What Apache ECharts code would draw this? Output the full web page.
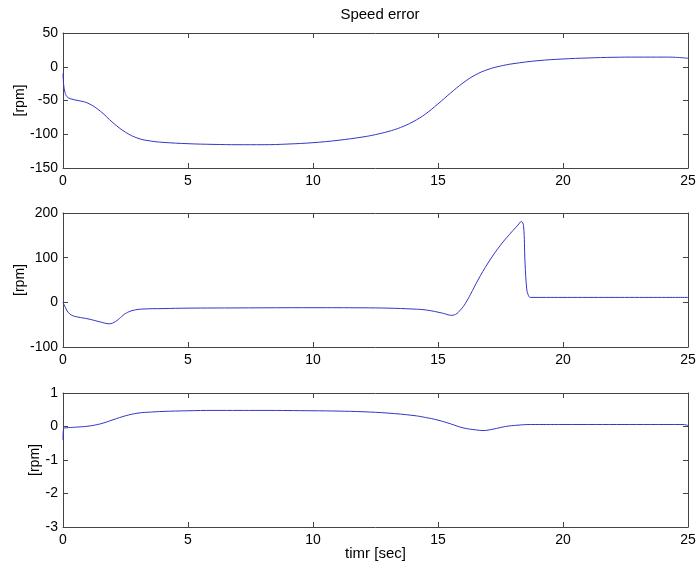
<!DOCTYPE html>
<html>
<head>
<meta charset="utf-8">
<script src="https://cdn.jsdelivr.net/npm/echarts@6/dist/echarts.min.js"></script>
<style>html,body{margin:0;padding:0;background:#fff;}#c{width:698px;height:569px;}</style>
</head>
<body>
<div id="c"></div>
<script>
var titleText = 'Speed error';
var xName = 'timr [sec]';
var yName = '[rpm]';

var xTicks = [0, 5, 10, 15, 20, 25];
var yRange1 = [-150, 50, 50];
var yRange2 = [-100, 200, 100];
var yRange3 = [-3, 1, 1];

var t1 = [0, 0.03, 0.08, 0.15, 0.3, 0.6, 1.0, 1.5, 2.0, 2.5, 3.0, 3.5, 4.0, 5.0, 6.0, 7.0, 8.0, 9.0, 10, 11, 12, 12.5, 13, 13.5, 14, 14.5, 15, 15.5, 16, 16.5, 17, 17.5, 18, 19, 20, 21, 22, 23, 24, 24.5, 25];
var v1 = [-10, -28, -38, -44, -47.5, -50, -54, -66, -83, -97, -106, -110, -112, -114, -115, -115.5, -115.5, -114.5, -112.5, -109, -104, -100.5, -96, -90, -81.5, -70, -55, -39, -24, -12, -4, 1, 4.5, 9, 11.5, 13, 14, 14.3, 14.3, 14, 12.5];

var t2 = [0, 0.1, 0.2, 0.35, 0.6, 1.0, 1.5, 1.85, 2.1, 2.3, 2.5, 2.8, 3.2, 4, 5, 7, 10, 12, 13, 14, 14.5, 15, 15.3, 15.5, 15.7, 15.9, 16.1, 16.3, 16.6, 17.0, 17.5, 18.0, 18.2, 18.33, 18.42, 18.48, 18.55, 18.62, 18.7, 20, 25];
var v2 = [0, -12, -22, -29, -33, -37, -44, -48, -43, -34, -25, -18, -15, -14, -13, -12.5, -12, -12.3, -13, -15, -17, -22, -26, -29, -27, -17, -2, 18, 50, 88, 128, 161, 173, 181, 172, 90, 30, 15, 11, 11, 11];

var t3 = [0, 0.03, 0.1, 0.5, 1.0, 1.5, 2.0, 2.5, 3.0, 3.5, 4.0, 5, 6, 8, 10, 11, 12, 13, 14, 14.5, 15, 15.5, 16, 16.5, 16.8, 17.2, 17.7, 18.2, 18.7, 20, 24.8, 25];
var v3 = [-0.4, -0.05, -0.04, -0.02, 0.01, 0.08, 0.2, 0.32, 0.4, 0.43, 0.45, 0.47, 0.48, 0.48, 0.47, 0.46, 0.44, 0.4, 0.33, 0.27, 0.19, 0.08, -0.04, -0.1, -0.12, -0.08, 0.0, 0.04, 0.06, 0.06, 0.06, 0.03];

function pairs(t, v) { return t.map(function (x, i) { return [x, v[i]]; }); }

var axisCol = '#444';
var font = 'Liberation Sans, Arial, sans-serif';
var grids = [
  {left: 63, top: 33, width: 625, height: 135, outerBoundsMode: 'none', containLabel: false},
  {left: 63, top: 213, width: 625, height: 134, outerBoundsMode: 'none', containLabel: false},
  {left: 63, top: 393, width: 625, height: 134, outerBoundsMode: 'none', containLabel: false}
];
var yRanges = [yRange1, yRange2, yRange3];
var yNameGaps = [36, 36, 21];
var xAxes = [], yAxes = [], series = [];
var datas = [pairs(t1, v1), pairs(t2, v2), pairs(t3, v3)];

for (var g = 0; g < 3; g++) {
  var common = {
    type: 'value', gridIndex: g, min: xTicks[0], max: xTicks[xTicks.length - 1], interval: 5,
    axisLine: {show: true, onZero: false, lineStyle: {color: axisCol, width: 1}},
    axisTick: {show: true, inside: true, length: 5, lineStyle: {color: axisCol}},
    splitLine: {show: false}
  };
  xAxes.push(Object.assign({}, common, {
    position: 'bottom',
    axisLabel: {show: true, color: '#000', fontSize: 14, fontFamily: font, margin: 6},
    name: g === 2 ? xName : '', nameLocation: 'middle', nameGap: 19, nameMoveOverlap: false,
    nameTextStyle: {color: '#000', fontSize: 15, fontFamily: font}
  }));
  xAxes.push(Object.assign({}, common, {position: 'top', axisLabel: {show: false}}));
  var r = yRanges[g];
  var ycommon = {
    type: 'value', gridIndex: g, min: r[0], max: r[1], interval: r[2],
    axisLine: {show: true, onZero: false, lineStyle: {color: axisCol, width: 1}},
    axisTick: {show: true, inside: true, length: 5, lineStyle: {color: axisCol}},
    splitLine: {show: false}
  };
  yAxes.push(Object.assign({}, ycommon, {
    position: 'left',
    axisLabel: {show: true, color: '#000', fontSize: 14, fontFamily: font, margin: 5},
    name: yName, nameLocation: 'middle', nameGap: yNameGaps[g], nameRotate: 90, nameMoveOverlap: false,
    nameTextStyle: {color: '#000', fontSize: 14, fontFamily: font}
  }));
  yAxes.push(Object.assign({}, ycommon, {position: 'right', axisLabel: {show: false}}));
  series.push({
    type: 'line', xAxisIndex: g * 2, yAxisIndex: g * 2, data: datas[g],
    showSymbol: false, smooth: 0.4,
    lineStyle: {color: '#3535c8', width: 1}, silent: true, animation: false
  });
}

var chart = echarts.init(document.getElementById('c'), null, {renderer: 'canvas'});
chart.setOption({
  backgroundColor: '#fff',
  animation: false,
  title: {text: titleText, left: 375, top: 2, textAlign: 'center',
    textStyle: {color: '#000', fontSize: 15, fontWeight: 'normal', fontFamily: font}},
  grid: grids,
  xAxis: xAxes,
  yAxis: yAxes,
  series: series
});
</script>
</body>
</html>
